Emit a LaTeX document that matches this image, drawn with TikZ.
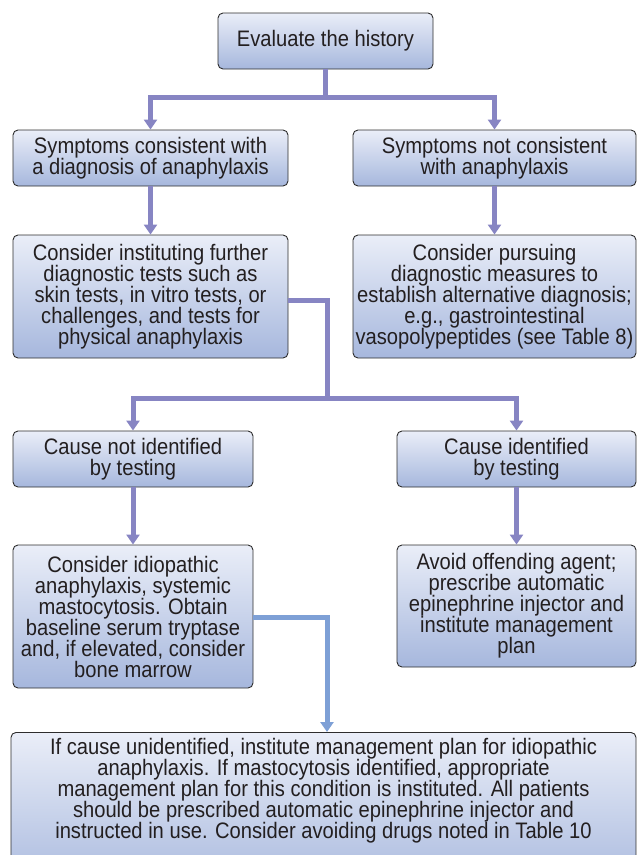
\documentclass[tikz,border=0pt]{standalone}
\usepackage{fontspec}
\setmainfont[FakeStretch=0.9]{Liberation Sans}
\usetikzlibrary{arrows.meta}
\definecolor{flowline}{RGB}{135,133,195}
\definecolor{flowblue}{RGB}{126,160,214}
\definecolor{boxtop}{RGB}{234,238,248}
\definecolor{boxbot}{RGB}{166,183,221}
\definecolor{boxedge}{RGB}{45,45,45}
\definecolor{ink}{RGB}{35,31,32}

\begin{document}
\begin{tikzpicture}[x=1pt,y=-1pt,
  box/.style={draw=boxedge, line width=0.9pt, rounded corners=5pt,
    top color=boxtop, bottom color=boxbot, text=ink, align=center,
    inner xsep=2pt, inner ysep=2pt, font=\fontsize{22.4}{21}\selectfont},
  link/.style={draw=flowline, line width=5pt},
  arr/.style={link, -{Triangle[width=13pt,length=10pt]}},
]
\useasboundingbox (0,0) rectangle (637,855);
\clip (0,0) rectangle (637,855);

% boxes
\node[box, minimum width=215pt, minimum height=56pt] (b1) at (325.5,41)
  {Evaluate the history};
\node[box, minimum width=275pt, minimum height=56pt] (b2l) at (150.5,158)
  {Symptoms consistent with\\a diagnosis of anaphylaxis};
\node[box, minimum width=283pt, minimum height=56pt] (b2r) at (494.5,158)
  {Symptoms not consistent\\with anaphylaxis};
\node[box, minimum width=275pt, minimum height=123pt] (b3l) at (150.5,296.5)
  {Consider instituting further\\diagnostic tests such as\\skin tests, in vitro tests, or\\challenges, and tests for\\physical anaphylaxis};
\node[box, minimum width=283pt, minimum height=123pt] (b3r) at (494.5,296.5)
  {Consider pursuing\\diagnostic measures to\\establish alternative diagnosis;\\e.g., gastrointestinal\\vasopolypeptides (see Table 8)};
\node[box, minimum width=240pt, minimum height=56pt] (b4l) at (133,459)
  {Cause not identified\\by testing};
\node[box, minimum width=239pt, minimum height=56pt] (b4r) at (516.5,459)
  {Cause identified\\by testing};
\node[box, minimum width=240pt, minimum height=143pt] (b5l) at (133,616.5)
  {Consider idiopathic\\anaphylaxis, systemic\\mastocytosis. Obtain\\baseline serum tryptase\\and, if elevated, consider\\bone marrow};
\node[box, minimum width=239pt, minimum height=122pt] (b5r) at (516.5,606)
  {Avoid offending agent;\\prescribe automatic\\epinephrine injector and\\institute management\\plan};
\node[box, anchor=north, minimum width=625pt, inner ysep=6pt] (b6) at (323.5,732)
  {If cause unidentified, institute management plan for idiopathic\\anaphylaxis. If mastocytosis identified, appropriate\\management plan for this condition is instituted. All patients\\should be prescribed automatic epinephrine injector and\\instructed in use. Consider avoiding drugs noted in Table 10\\[30pt]\mbox{}};

% junction points
\coordinate (j1) at (325.5,97);
\coordinate (j2) at (327,398);
\coordinate (j3) at (327,617);

% connectors
\draw[link] (b1.south) -- (j1);
\draw[arr] (j1) -| (b2l.north);
\draw[arr] (j1) -| (b2r.north);
\draw[arr] (b2l) -- (b3l);
\draw[arr] (b2r) -- (b3r);
\draw[link] ([yshift=-3.5pt]b3l.east) -| (j2);
\draw[arr] (j2) -| (b4l.north);
\draw[arr] (j2) -| (b4r.north);
\draw[arr] (b4l) -- (b5l);
\draw[arr] (b4r) -- (b5r);
\draw[arr, draw=flowblue] (b5l.east |- j3) -| (b6.north -| j3);
\end{tikzpicture}
\end{document}
